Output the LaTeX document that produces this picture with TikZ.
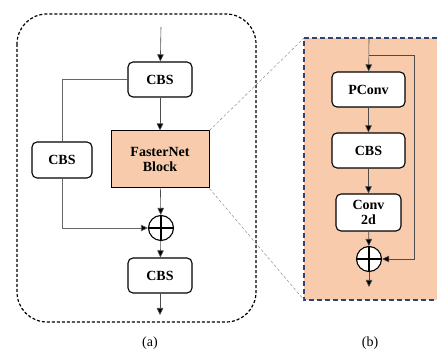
\documentclass[tikz,border=0pt]{standalone}
\usepackage{fontspec}
\setmainfont{Liberation Serif}
\usepackage{xcolor}
\usetikzlibrary{positioning,arrows.meta,backgrounds}
\definecolor{peach}{RGB}{248,203,173}
\definecolor{navy}{RGB}{47,68,110}
\begin{document}
\begin{tikzpicture}[x=1pt,y=-1pt,
   blk/.style={draw,line width=1.1pt,rounded corners=5pt,fill=white,inner sep=0pt,
     align=center,font=\fontsize{14}{15}\selectfont\bfseries},
   addop/.style={draw,circle,line width=1.1pt,fill=white,minimum size=25pt,inner sep=0pt},
   arr/.style={draw=black!70,line width=0.6pt,-{Triangle[length=7pt,width=6.5pt,fill=black]}},
   skip/.style={draw=black!60,line width=0.6pt},
   zoomline/.style={gray,densely dashed,line width=0.4pt}]
 \useasboundingbox (0,0) rectangle (437,352);

 % (a) outer block
 \draw[line width=1.2pt,dash pattern=on 3pt off 2pt,rounded corners=30pt] (17,14) rectangle (256,322);
 \coordinate (ina) at (161,27);
 \node[blk,minimum width=64pt,minimum height=35pt] (cbsa) at (160,79.5) {CBS};
 \node[blk,fill=peach,rounded corners=0pt,line width=1pt,minimum width=98pt,minimum height=57pt] (fnb) at (160,159.5) {FasterNet\\Block};
 \node[blk,minimum width=60pt,minimum height=36pt] (cbsl) at (62,160) {CBS};
 \node[addop] (adda) at (161,228) {};
 \draw[line width=1.1pt] (adda.north) -- (adda.south) (adda.west) -- (adda.east);
 \node[blk,minimum width=64pt,minimum height=35pt] (cbsb) at (160,275.5) {CBS};
 \coordinate (outa) at (160,315);

 \draw[arr] (ina) -- (cbsa);
 \draw[arr] (cbsa) -- (fnb);
 \draw[skip] (cbsa.west) -| (cbsl.north);
 \draw[arr,draw=black!60] (cbsl.south) |- (adda.west);
 \draw[arr] (fnb) -- (adda);
 \draw[arr] (adda) -- (cbsb);
 \draw[arr] (cbsb) -- (outa);

 % (b) zoomed block
 \coordinate (pbnw) at (304,38);
 \coordinate (pbsw) at (304,300);
 \begin{scope}[on background layer]
  \fill[peach] (pbnw) rectangle (437,300);
 \end{scope}
 \draw[navy,line width=1.4pt,dash pattern=on 5pt off 3pt] (437,38) -- (pbnw) -- (pbsw) -- (437,300);
 \draw[zoomline] (fnb.north east) -- (pbnw);
 \draw[zoomline] (fnb.south east) -- (pbsw);

 \coordinate (inb) at (369,38);
 \coordinate (brb) at (369,55);
 \coordinate (skb) at (414,55);
 \node[blk,minimum width=73pt,minimum height=35pt] (pconv) at (368.5,89.5) {PConv};
 \node[blk,minimum width=73pt,minimum height=35pt] (cbsc) at (368.5,150.5) {CBS};
 \node[blk,minimum width=65pt,minimum height=37pt] (conv) at (368.5,212.5) {Conv\\2d};
 \node[addop] (addb) at (369,259) {};
 \draw[line width=1.1pt] (addb.north) -- (addb.south) (addb.west) -- (addb.east);
 \coordinate (outb) at (369,287);

 \draw[arr] (inb) -- (pconv);
 \draw[arr] (brb) -- (skb) |- (addb.east);
 \draw[arr] (pconv) -- (cbsc);
 \draw[arr] (cbsc) -- (conv);
 \draw[arr] (conv) -- (addb);
 \draw[arr] (addb) -- (outb);

 \node[font=\fontsize{14}{15}\selectfont] (capa) at (150,343) {(a)};
 \node[font=\fontsize{14}{15}\selectfont] (capb) at (370,343) {(b)};
\end{tikzpicture}
\end{document}
